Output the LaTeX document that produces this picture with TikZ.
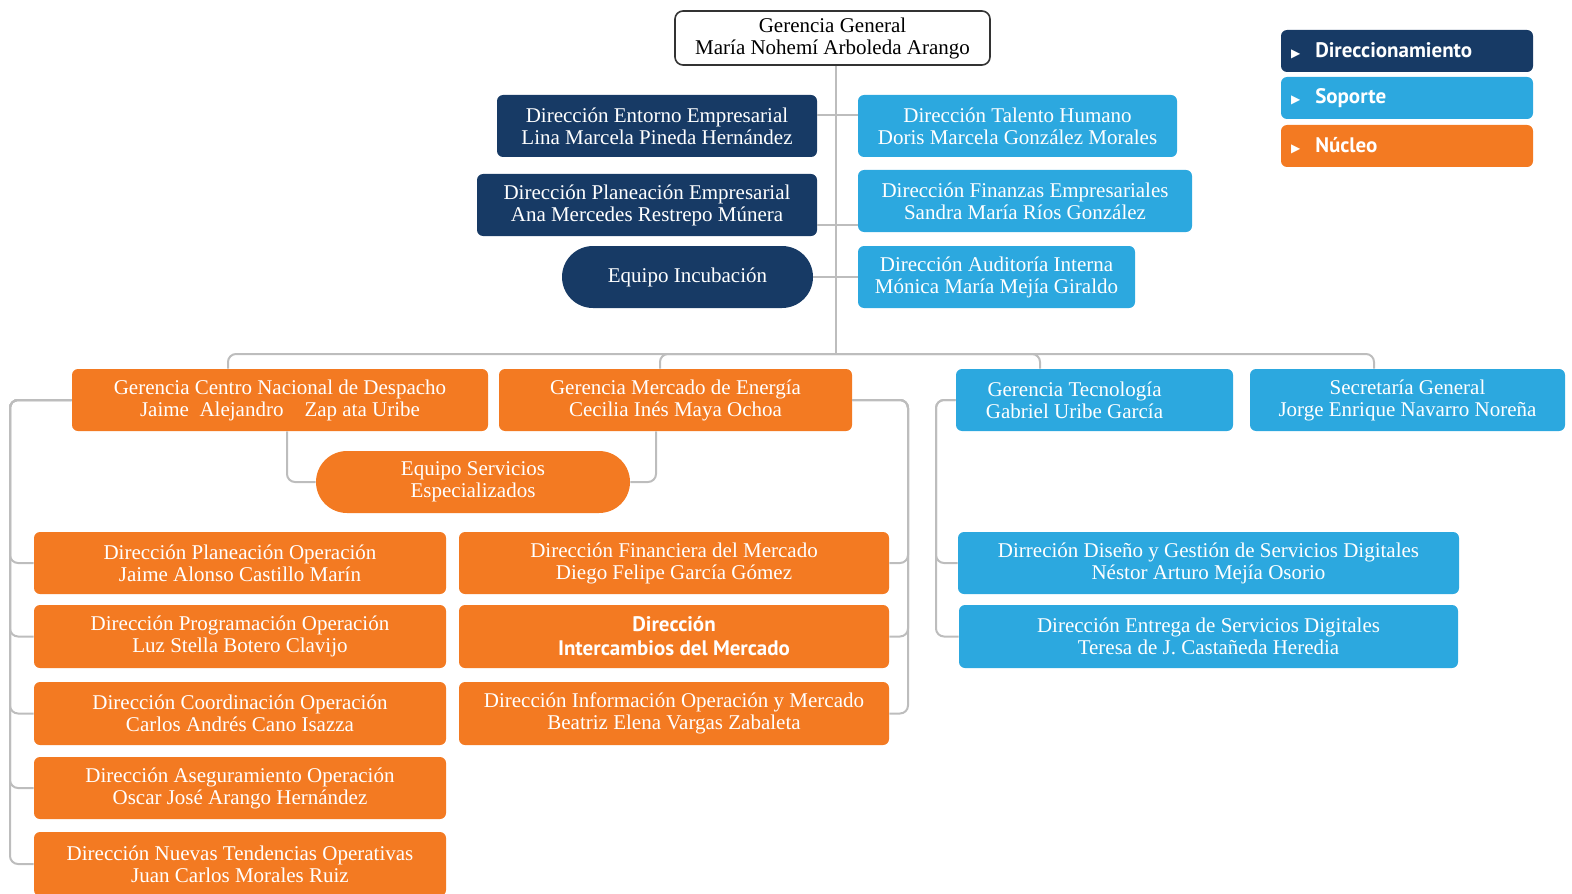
\documentclass[tikz,border=0pt]{standalone}
\usepackage{fontspec}
\setmainfont{Liberation Serif}
\newfontfamily\keyfont{PT Sans}
\newfontfamily\arrowfont{DejaVu Sans}

\definecolor{mDarkBlue}{HTML}{173A65}
\definecolor{mLightBlue}{HTML}{2CA8DF}
\definecolor{mOrange}{HTML}{F37A22}
\definecolor{mLine}{HTML}{BDBDBD}

\tikzset{
  unit/.style={rounded corners=3pt, inner sep=0pt, align=center, text=white,
    font=\fontsize{10.5}{11}\selectfont},
  dims/.style 2 args={minimum width=#1pt, minimum height=#2pt},
  direc/.style={unit, fill=mDarkBlue},
  soporte/.style={unit, fill=mLightBlue},
  nucleo/.style={unit, fill=mOrange},
  team/.style={rounded corners=15.5pt},
  keybox/.style={unit, dims={126}{21}, text width=116pt, align=left,
    font=\keyfont\bfseries\fontsize{10.5}{11}\selectfont},
  link/.style={draw=mLine, line width=1pt, rounded corners=4pt},
}

\begin{document}
\begin{tikzpicture}[x=0.5pt, y=-0.5pt]
\useasboundingbox (0,0) rectangle (1572,893);

\node[unit, dims={157.5}{27}, fill=white, draw=black!80, line width=0.8pt, rounded corners=4pt, text=black]
  (gg) at (832.5,38) {Gerencia General\\María Nohemí Arboleda Arango};

\node[direc, dims={160}{31}] (entorno) at (657,126) {Dirección Entorno Empresarial\\Lina Marcela Pineda Hernández};
\node[direc, dims={170}{31}] (planemp) at (647,205) {Dirección Planeación Empresarial\\Ana Mercedes Restrepo Múnera};
\node[direc, team, dims={125.5}{31}] (incub) at (687.5,277) {Equipo Incubación};

\node[soporte, dims={159.5}{31}] (talento) at (1017.5,126) {Dirección Talento Humano\\Doris Marcela González Morales};
\node[soporte, dims={167}{31}] (finanzas) at (1025,201) {Dirección Finanzas Empresariales\\Sandra María Ríos González};
\node[soporte, dims={138.5}{31}] (auditoria) at (996.5,277) {Dirección Auditoría Interna\\Mónica María Mejía Giraldo};

\node[nucleo, dims={208}{31}] (cnd) at (280,400) {Gerencia Centro Nacional de Despacho\\Jaime\ \ Alejandro\ \ \ \ Zap ata Uribe};
\node[nucleo, dims={176.5}{31}] (mercado) at (675.5,400) {Gerencia Mercado de Energía\\Cecilia Inés Maya Ochoa};
\node[soporte, dims={138.5}{31}] (tecno) at (1094.5,400) {Gerencia Tecnología\hspace*{20pt}\\Gabriel Uribe García\hspace*{20pt}};
\node[soporte, dims={157.5}{31}] (secgen) at (1407.5,400) {Secretaría General\\Jorge Enrique Navarro Noreña};

\node[nucleo, team, dims={157}{31}] (ese) at (473,482) {Equipo Servicios\\Especializados};

\node[nucleo, dims={206}{31}] (planop) at (240,563) {Dirección Planeación Operación\\Jaime Alonso Castillo Marín};
\node[nucleo, dims={206}{31.5}] (progop) at (240,636.5) {Dirección Programación Operación\\Luz Stella Botero Clavijo};
\node[nucleo, dims={206}{31.5}] (coordop) at (240,713.5) {Dirección Coordinación Operación\\Carlos Andrés Cano Isazza};
\node[nucleo, dims={206}{31}] (asegop) at (240,788) {Dirección Aseguramiento Operación\\Oscar José Arango Hernández};
\node[nucleo, dims={206}{32}] (nuevas) at (240,864) {Dirección Nuevas Tendencias Operativas\\Juan Carlos Morales Ruiz};

\node[nucleo, dims={215}{31}] (finmerc) at (674,563) {Dirección Financiera del Mercado\\Diego Felipe García Gómez};
\node[nucleo, dims={215}{31.5}, font=\keyfont\bfseries\fontsize{10.5}{12}\selectfont] (intercamb) at (674,636.5) {Dirección\\Intercambios del Mercado};
\node[nucleo, dims={215}{31.5}] (infomerc) at (674,713.5) {Dirección Información Operación y Mercado\\Beatriz Elena Vargas Zabaleta};

\node[soporte, dims={250.5}{31}] (diseno) at (1208.5,563) {Dirreción Diseño y Gestión de Servicios Digitales\\Néstor Arturo Mejía Osorio};
\node[soporte, dims={249.5}{31.5}] (entrega) at (1208.5,636.5) {Dirección Entrega de Servicios Digitales\\Teresa de J. Castañeda Heredia};

\node[keybox, fill=mDarkBlue] (kdir) at (1407,51) {{\arrowfont\fontsize{6}{6}\selectfont ▶}\hspace{7.5pt}Direccionamiento};
\node[keybox, fill=mLightBlue] (ksop) at (1407,98) {{\arrowfont\fontsize{6}{6}\selectfont ▶}\hspace{7.5pt}Soporte};
\node[keybox, fill=mOrange] (knuc) at (1407,146) {{\arrowfont\fontsize{6}{6}\selectfont ▶}\hspace{7.5pt}Núcleo};

\coordinate (bus) at (836,354);
\coordinate (lrail) at (10,400);
\coordinate (mrail) at (908,400);
\coordinate (trail) at (936,400);

\draw[link] (gg.south -| bus) -- (bus);
\draw[link] ([yshift=5.5pt]entorno.east) -- ([yshift=5.5pt]entorno.east -| bus);
\draw[link] ([yshift=-10pt]planemp.east) -- ([yshift=-10pt]planemp.east -| bus);
\draw[link] (incub.east) -- (incub.east -| bus);
\draw[link] ([yshift=5.5pt]talento.west) -- ([yshift=5.5pt]talento.west -| bus);
\draw[link] ([yshift=-12pt]finanzas.west) -- ([yshift=-12pt]finanzas.west -| bus);
\draw[link] (auditoria.west) -- (auditoria.west -| bus);

\draw[link] ([xshift=-26pt]cnd.north) |- (bus) -| ([xshift=-16.75pt]secgen.north);
\draw[link] (bus) -| ([xshift=-7.75pt]mercado.north);
\draw[link] (bus) -| ([xshift=-27.25pt]tecno.north);

\foreach \n in {planop,progop,coordop,asegop,nuevas}
  \draw[link] (cnd.west) -- (lrail) |- (\n.west);
\foreach \n in {finmerc,intercamb,infomerc}
  \draw[link] (mercado.east) -- (mrail) |- (\n.east);
\foreach \n in {diseno,entrega}
  \draw[link] (tecno.west) -- (trail) |- (\n.west);

\draw[link] ([xshift=3.5pt]cnd.south) |- (ese.west);
\draw[link] ([xshift=-9.75pt]mercado.south) |- (ese.east);

\end{tikzpicture}
\end{document}
